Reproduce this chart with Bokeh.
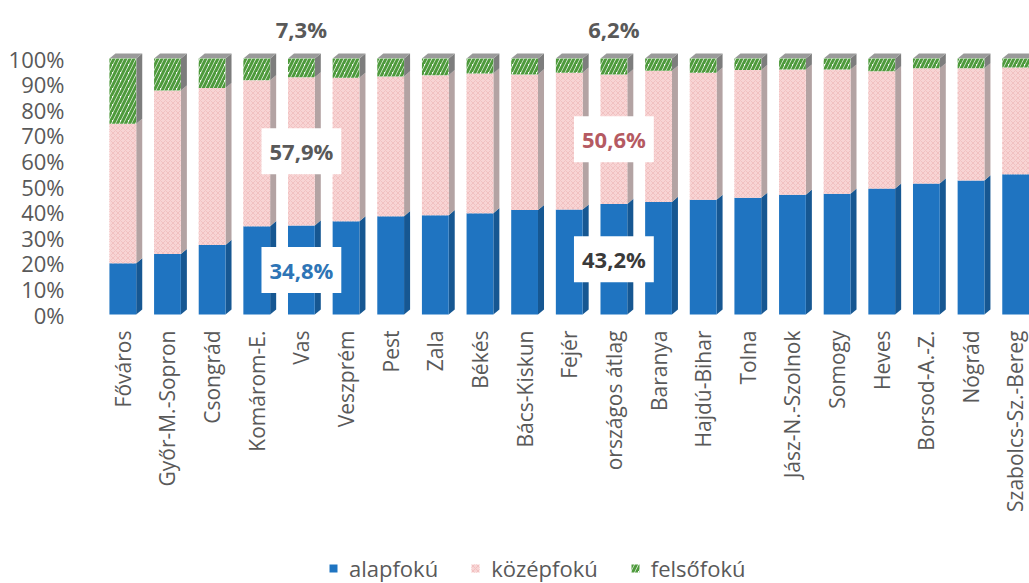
import numpy as np
from bokeh.plotting import figure
from bokeh.models import ColumnDataSource, FixedTicker, Legend, LegendItem, Range1d
from bokeh.core.properties import value
from bokeh.embed import file_html
from bokeh.resources import INLINE

# ---------------- data ----------------
categories = ["Főváros", "Győr-M.-Sopron", "Csongrád", "Komárom-E.", "Vas", "Veszprém",
              "Pest", "Zala", "Békés", "Bács-Kiskun", "Fejér", "országos átlag", "Baranya",
              "Hajdú-Bihar", "Tolna", "Jász-N.-Szolnok", "Somogy", "Heves", "Borsod-A.-Z.",
              "Nógrád", "Szabolcs-Sz.-Bereg"]
alapfoku = [20.0, 23.6, 27.2, 34.5, 34.8, 36.4, 38.4, 38.8, 39.6, 40.8, 41.0, 43.2, 44.0,
            44.8, 45.6, 46.8, 47.2, 49.2, 51.2, 52.4, 54.8]
kozepfoku = [54.5, 63.9, 61.3, 57.0, 57.9, 56.1, 54.6, 54.7, 54.6, 53.0, 53.5, 50.6, 51.2,
             49.7, 49.9, 48.9, 48.5, 45.8, 45.0, 43.8, 41.7]
felsofoku = [25.5, 12.5, 11.5, 8.5, 7.3, 7.5, 7.0, 6.5, 5.8, 6.2, 5.5, 6.2, 4.8,
             5.5, 4.5, 4.3, 4.3, 5.0, 3.8, 3.8, 3.5]
series_names = ["alapfokú", "középfokú", "felsőfokú"]
ytick_values = [0, 10, 20, 30, 40, 50, 60, 70, 80, 90, 100]
ytick_labels = ["0%", "10%", "20%", "30%", "40%", "50%", "60%", "70%", "80%", "90%", "100%"]

label_cats = ["Vas", "Vas", "Vas", "országos átlag", "országos átlag", "országos átlag"]
label_series = [0, 1, 2, 0, 1, 2]
label_texts = ["34,8%", "57,9%", "7,3%", "43,2%", "50,6%", "6,2%"]

# ---------------- styles ----------------
FONT = "Open Sans"
GRAY = "#595959"
BLUE = "#1f74c1"
BLUE_SIDE = "#165792"
PINK = "#f8d4d4"
PINK_HATCH = "#f1c2c2"
PINK_SIDE = "#b3a3a3"
GREEN = "#4e9a3c"
GREEN_SIDE = "#7d7d7d"
TOP_FACE = "#9a9a9a"
label_colors = ["#2e75b6", GRAY, GRAY, "#3a3a3a", "#b55a62", GRAY]

W, H = 1029, 583
p = figure(width=W, height=H, x_range=Range1d(-0.5, 20.31), y_range=Range1d(-105.1, 118),
           output_backend="svg", toolbar_location=None,
           min_border_left=100, min_border_right=0, min_border_top=12, min_border_bottom=0,
           outline_line_color=None, background_fill_color="white", border_fill_color="white")
p.xgrid.visible = False
p.ygrid.visible = False

n = len(categories)
xs = np.arange(n, dtype=float)
series = [alapfoku, kozepfoku, felsofoku]
bottoms, tops = [], []
run = np.zeros(n)
for s in series:
    arr = np.array(s, dtype=float)
    bottoms.append(run.copy())
    run = run + arr
    tops.append(run.copy())

half = 0.30   # half front-face width
dx = 0.135    # depth in x
dy = 2.0      # depth in y

# side faces
side_colors = [BLUE_SIDE, PINK_SIDE, GREEN_SIDE]
for k in range(3):
    sx = [[x + half, x + half + dx, x + half + dx, x + half] for x in xs]
    sy = [[b, b + dy, t + dy, t] for b, t in zip(bottoms[k], tops[k])]
    p.patches(sx, sy, fill_color=side_colors[k], line_color=None)
# top faces
tx = [[x - half, x - half + dx, x + half + dx, x + half] for x in xs]
ty = [[t, t + dy, t + dy, t] for t in tops[2]]
p.patches(tx, ty, fill_color=TOP_FACE, line_color=None)

# front faces
src = ColumnDataSource(dict(x=xs, b0=bottoms[0], t0=tops[0], b1=bottoms[1], t1=tops[1],
                            b2=bottoms[2], t2=tops[2]))
r0 = p.vbar(x="x", bottom="b0", top="t0", width=2 * half, source=src,
            fill_color=BLUE, line_color=None)
r1 = p.vbar(x="x", bottom="b1", top="t1", width=2 * half, source=src,
            fill_color=PINK, line_color=None,
            hatch_pattern="diagonal_cross", hatch_color=PINK_HATCH, hatch_weight=1, hatch_scale=5)
r2 = p.vbar(x="x", bottom="b2", top="t2", width=2 * half, source=src,
            fill_color="white", line_color=None,
            hatch_pattern="right_diagonal_line", hatch_color=GREEN, hatch_weight=3, hatch_scale=8)

# data labels
lx, ly = [], []
for c, k in zip(label_cats, label_series):
    i = categories.index(c)
    lx.append(xs[i])
    if k == 2:
        ly.append(tops[2][i] + 11.5)
    else:
        ly.append((bottoms[k][i] + tops[k][i]) / 2)
lsrc = ColumnDataSource(dict(x=lx, y=ly, text=label_texts, color=label_colors))
p.text(x="x", y="y", text="text", source=lsrc, text_color="color",
       text_font=value(FONT), text_font_style="bold", text_font_size="22px",
       text_align="center", text_baseline="middle",
       background_fill_color="white", padding=8)

# axes
p.yaxis.ticker = FixedTicker(ticks=ytick_values)
p.yaxis.major_label_overrides = {v: l for v, l in zip(ytick_values, ytick_labels)}
p.yaxis.axis_line_color = None
p.yaxis.major_tick_line_color = None
p.yaxis.minor_tick_line_color = None
p.yaxis.major_label_standoff = 30
p.yaxis.major_label_text_font = FONT
p.yaxis.major_label_text_font_size = "22px"
p.yaxis.major_label_text_color = GRAY

p.xaxis.fixed_location = 0
p.xaxis.ticker = FixedTicker(ticks=list(range(n)))
p.xaxis.major_label_overrides = {i: c for i, c in enumerate(categories)}
p.xaxis.major_label_orientation = np.pi / 2
p.xaxis.axis_line_color = None
p.xaxis.major_tick_line_color = None
p.xaxis.minor_tick_line_color = None
p.xaxis.major_label_standoff = 10
p.xaxis.major_label_text_font = FONT
p.xaxis.major_label_text_font_size = "21px"
p.xaxis.major_label_text_color = GRAY

legend = Legend(items=[LegendItem(label=series_names[0], renderers=[r0]),
                       LegendItem(label=series_names[1], renderers=[r1]),
                       LegendItem(label=series_names[2], renderers=[r2])],
                orientation="horizontal", location=(228, 0),
                border_line_color=None, background_fill_alpha=0, padding=0, margin=0,
                glyph_width=10, glyph_height=10, label_standoff=11, spacing=32,
                label_text_font=FONT, label_text_font_size="22px", label_text_color=GRAY)
p.add_layout(legend, "center")

open("out.html", "w").write(file_html(p, INLINE))
